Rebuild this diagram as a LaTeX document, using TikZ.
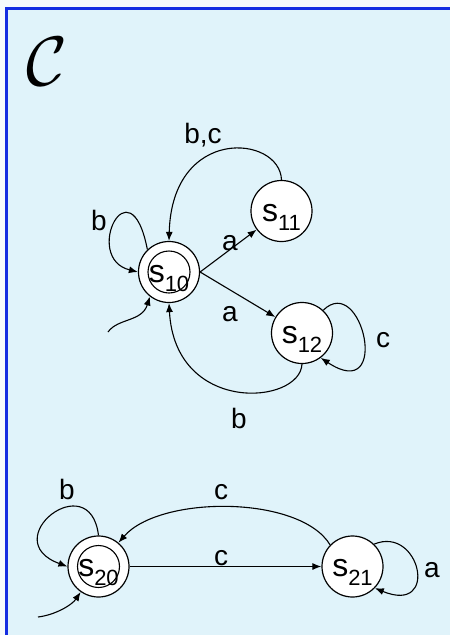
\documentclass[tikz,border=0pt]{standalone}
\usepackage{fontspec}
\setmainfont{Liberation Sans}
\usepackage{graphicx}
\usetikzlibrary{arrows.meta}
\definecolor{bgout}{RGB}{246,250,252}
\definecolor{bgin}{RGB}{224,243,250}
\definecolor{framec}{RGB}{20,45,225}
\newcommand{\stname}[1]{\smash{\raisebox{-10pt}{\fontsize{32}{32}\selectfont s\raisebox{-9pt}{\fontsize{22}{22}\selectfont #1}}}}
\begin{document}
\begin{tikzpicture}[x=1pt,y=-1pt,
  state/.style={circle,draw,line width=1.2pt,fill=white,minimum size=61pt,inner sep=0pt},
  edge/.style={draw,line width=1.1pt,-{Latex[length=9pt,width=7pt]}},
  lab/.style={font=\fontsize{28}{28}\selectfont,anchor=base,inner sep=0pt},
  inner/.style={draw,line width=1.1pt}]
\useasboundingbox (0,0) rectangle (450,635);
\fill[bgout] (0,0) rectangle (450,635);
\fill[bgin] (6.5,8.5) rectangle (460,645);
\draw[framec,line width=3pt] (6.5,8.5) rectangle (460,645);

\node (calC) at (47,62) {\scalebox{7}{$\mathcal{C}$}};

% states
\node[state] (s10) at (169,272) {\stname{10}};
\draw[inner] (s10.center) circle[radius=21];
\node[state] (s11) at (281.5,211) {\stname{11}};
\node[state] (s12) at (302,333) {\stname{12}};
\node[state] (s20) at (98.5,566.5) {\stname{20}};
\draw[inner] (s20.center) circle[radius=21];
\node[state] (s21) at (352.5,566.5) {\stname{21}};

\coordinate (i1) at (108,332);
\coordinate (i2) at (38,617);

% edges of first machine
\draw[edge] (s10.134) .. controls (130,160) and (82,258) .. (s10.180);
\draw[edge] (i1) .. controls (118,318) and (142,322) .. (s10.232);
\draw[edge] (s10.east) -- (s11);
\draw[edge] (s10.east) -- (s12);
\draw[edge] (s11.north) .. controls (280,135) and (172,125) .. (s10.north);
\draw[edge] (s12.47) .. controls (362,272) and (392,405) .. (s12.-53);
\draw[edge] (s12.south) .. controls (300,405) and (175,415) .. (s10.south);

% edges of second machine
\draw[edge] (s20.north) .. controls (90,465) and (-5,540) .. (s20.west);
\draw[edge] (i2) .. controls (55,615) and (72,605) .. (s20.235);
\draw[edge] (s20.east) -- (s21.west);
\draw[edge] (s21.136) .. controls (300,495) and (160,495) .. (s20.50);
\draw[edge] (s21.46) .. controls (420,525) and (440,615) .. (s21.-44);

% labels
\node[lab] (lbc) at (203,143) {b,c};
\node[lab] (la1) at (230,250) {a};
\node[lab] (la2) at (230,321) {a};
\node[lab] (lb1) at (99,230) {b};
\node[lab] (lc1) at (383,347) {c};
\node[lab] (lb2) at (239,428) {b};
\node[lab] (lb3) at (67,499) {b};
\node[lab] (lc2) at (221,499) {c};
\node[lab] (lc3) at (221,565) {c};
\node[lab] (la3) at (432,577) {a};
\end{tikzpicture}
\end{document}
